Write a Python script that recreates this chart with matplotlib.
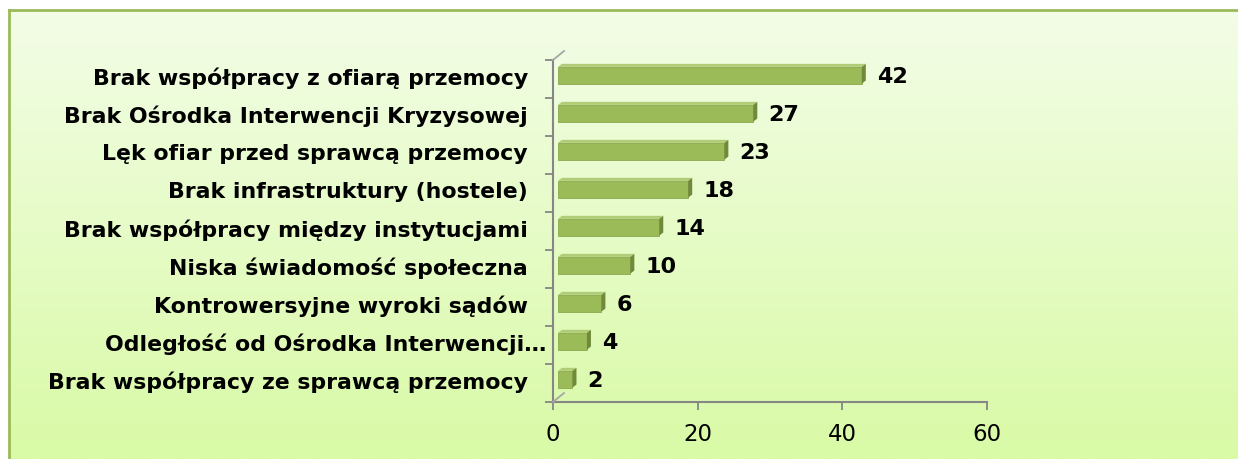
import numpy as np
import matplotlib
matplotlib.use('Agg')
import matplotlib.pyplot as plt
from matplotlib.patches import Polygon
from matplotlib.lines import Line2D
from matplotlib.transforms import ScaledTranslation

categories = [
    "Brak współpracy z ofiarą przemocy",
    "Brak Ośrodka Interwencji Kryzysowej",
    "Lęk ofiar przed sprawcą przemocy",
    "Brak infrastruktury (hostele)",
    "Brak współpracy między instytucjami",
    "Niska świadomość społeczna",
    "Kontrowersyjne wyroki sądów",
    "Odległość od Ośrodka Interwencji…",
    "Brak współpracy ze sprawcą przemocy",
]
values = [42, 27, 23, 18, 14, 10, 6, 4, 2]
xticks = [0, 20, 40, 60]

W, H = 1238, 459
fig = plt.figure(figsize=(W / 100, H / 100), dpi=100)
fig.patch.set_facecolor('white')

# background frame with gradient
bg = fig.add_axes([9 / W, 0, 1 - 9 / W, (H - 10) / H])
g = np.linspace(0, 1, 256)[:, None, None]
top_c = np.array([0xf3, 0xfd, 0xe7]) / 255
bot_c = np.array([0xd9, 0xfa, 0xa6]) / 255
img = top_c + (bot_c - top_c) * g
bg.imshow(img, aspect='auto', extent=[0, 1, 0, 1], origin='upper')
bg.set_axis_off()
fig.add_artist(Line2D([9 / W, 9 / W], [0, (H - 10) / H], transform=fig.transFigure,
                      color='#9bbb59', lw=2))
fig.add_artist(Line2D([9 / W, 1], [(H - 10) / H, (H - 10) / H], transform=fig.transFigure,
                      color='#9bbb59', lw=2))

x0, x1 = 553, 987
yb, yt = 402, 60
ax = fig.add_axes([x0 / W, (H - yb) / H, (x1 - x0) / W, (yb - yt) / H])
ax.set_facecolor('none')
ax.set_xlim(0, 60)
ax.set_ylim(-0.6, 8.4)

ypos = np.arange(len(categories))[::-1]
sx = (x1 - x0) / 60.0
sy = (yb - yt) / 9.0
h = 0.44
shift = ScaledTranslation(5 / 100, 0, fig.dpi_scale_trans)
ddx, ddy = 4 / sx, 3 / sy

front = '#9bbb59'
topc = '#b0cc76'
side = '#71893a'
for y, v in zip(ypos, values):
    t = ax.transData + shift
    rect = plt.Rectangle((0, y - h / 2), v, h, facecolor=front, edgecolor='#8aa84c', lw=0.6,
                         transform=t, zorder=3)
    ax.add_patch(rect)
    top_poly = Polygon([(0, y + h / 2), (v, y + h / 2), (v + ddx, y + h / 2 + ddy),
                        (ddx, y + h / 2 + ddy)], closed=True, facecolor=topc,
                       edgecolor='none', transform=t, zorder=3)
    ax.add_patch(top_poly)
    side_poly = Polygon([(v, y - h / 2), (v, y + h / 2), (v + ddx, y + h / 2 + ddy),
                         (v + ddx, y - h / 2 + ddy)], closed=True, facecolor=side,
                        edgecolor='none', transform=t, zorder=3)
    ax.add_patch(side_poly)
    ax.annotate(str(v), xy=(v, y), xytext=(20 * 0.72, -1.2), textcoords='offset points',
                ha='left', va='center', fontsize=16, fontweight='bold', color='black')

# category labels (the truncated one reaches closer to the axis, as in Excel)
for y, cat in zip(ypos, categories):
    off = -5 if cat.endswith('…') else -18
    ax.annotate(cat, xy=(0, y), xytext=(off, -2), textcoords='offset points',
                ha='right', va='center', fontsize=15.8, fontweight='bold', color='black',
                annotation_clip=False)

ax.set_yticks([])
ax.set_yticks(np.arange(10) - 0.6, minor=True)
ax.tick_params(axis='y', which='minor', length=6, width=1.3, color='#868686', direction='out')

ax.set_xticks(xticks)
ax.set_xticklabels([str(t) for t in xticks], fontsize=16.5)
ax.tick_params(axis='x', length=6, width=1.3, color='#868686', direction='out', pad=9)

for s in ['top', 'right']:
    ax.spines[s].set_visible(False)
for s in ['left', 'bottom']:
    ax.spines[s].set_color('#868686')
    ax.spines[s].set_linewidth(1.5)

# small 3D depth edges at the corners of the wall/floor
for yy in (-0.6, 8.4):
    p = ax.transData.transform((0, yy))
    q = p + np.array([11, 9])
    fig.add_artist(Line2D([p[0] / W, q[0] / W], [p[1] / H, q[1] / H], transform=fig.transFigure,
                          color='#a6a6a6', lw=1.3))

fig.savefig('out.png', dpi=100)
